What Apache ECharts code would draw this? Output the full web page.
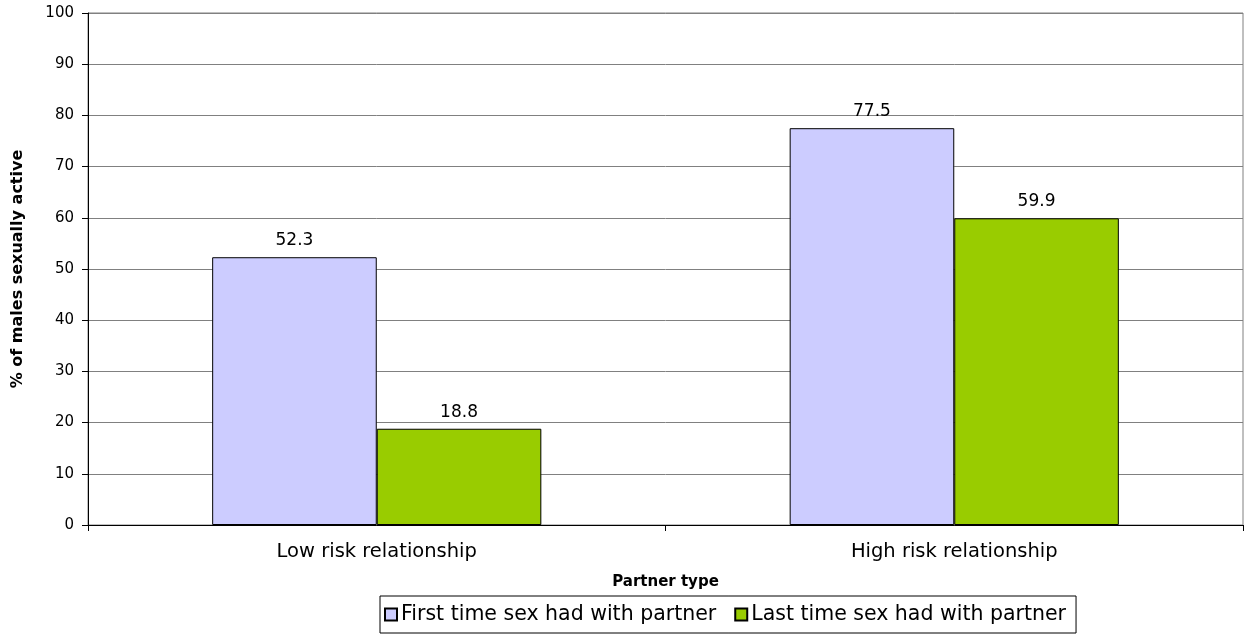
<!DOCTYPE html>
<html><head><meta charset="utf-8">
<script src="https://cdn.jsdelivr.net/npm/echarts@6/dist/echarts.min.js"></script>
<style>html,body{margin:0;padding:0;background:#fff}#c{width:1248px;height:634px}</style>
</head><body><div id="c"></div>
<script>
const categories = ["Low risk relationship", "High risk relationship"];
const seriesNames = ["First time sex had with partner", "Last time sex had with partner"];
const firstTime = [52.3, 77.5];
const lastTime = [18.8, 59.9];
const yTicks = [0, 100, 10];

const chart = echarts.init(document.getElementById('c'), null, {renderer: 'canvas'});
const font = '"DejaVu Sans", Arial, sans-serif';
const lbl = {show: true, position: 'top', distance: 8, color: '#000', fontSize: 17, fontFamily: font, formatter: p => p.value.toFixed(1)};
chart.setOption({
  animation: false,
  textStyle: {fontFamily: font},
  grid: {left: 88, right: 5, top: 13, bottom: 109, show: true, borderColor: '#808080', borderWidth: 1,
         containLabel: false, outerBoundsMode: 'none'},
  legend: {
    bottom: 1, left: 380, itemWidth: 12, itemHeight: 12, itemGap: 18,
    borderColor: '#000', borderWidth: 1, padding: [8, 10, 8, 4], icon: 'rect',
    textStyle: {fontSize: 20.5, color: '#000', fontFamily: font, padding: [0, 0, 0, -1]},
    data: seriesNames
  },
  xAxis: {
    type: 'category', data: categories,
    name: 'Partner type', nameLocation: 'middle', nameGap: 50,
    nameTextStyle: {fontSize: 15, fontWeight: 'bold', color: '#000', fontFamily: font},
    axisLine: {lineStyle: {color: '#000'}},
    axisTick: {show: true, length: 6, lineStyle: {color: '#000'}},
    axisLabel: {fontSize: 19.5, color: '#000', margin: 17, fontFamily: font}
  },
  yAxis: {
    type: 'value', min: yTicks[0], max: yTicks[1], interval: yTicks[2],
    name: '% of males sexually active', nameLocation: 'middle', nameGap: 62,
    nameTextStyle: {fontSize: 16, fontWeight: 'bold', color: '#000', fontFamily: font},
    axisLine: {show: true, lineStyle: {color: '#000'}},
    axisTick: {show: true, length: 6, lineStyle: {color: '#000'}},
    axisLabel: {fontSize: 15, color: '#000', margin: 14, fontFamily: font},
    splitLine: {lineStyle: {color: '#808080', width: 1}}
  },
  series: [
    {name: seriesNames[0], type: 'bar', data: firstTime, barGap: '0%', barCategoryGap: '43%',
     itemStyle: {color: '#CCCCFF', borderColor: '#000', borderWidth: 1}, label: lbl},
    {name: seriesNames[1], type: 'bar', data: lastTime,
     itemStyle: {color: '#99CC00', borderColor: '#000', borderWidth: 1}, label: lbl}
  ]
});
</script></body></html>
